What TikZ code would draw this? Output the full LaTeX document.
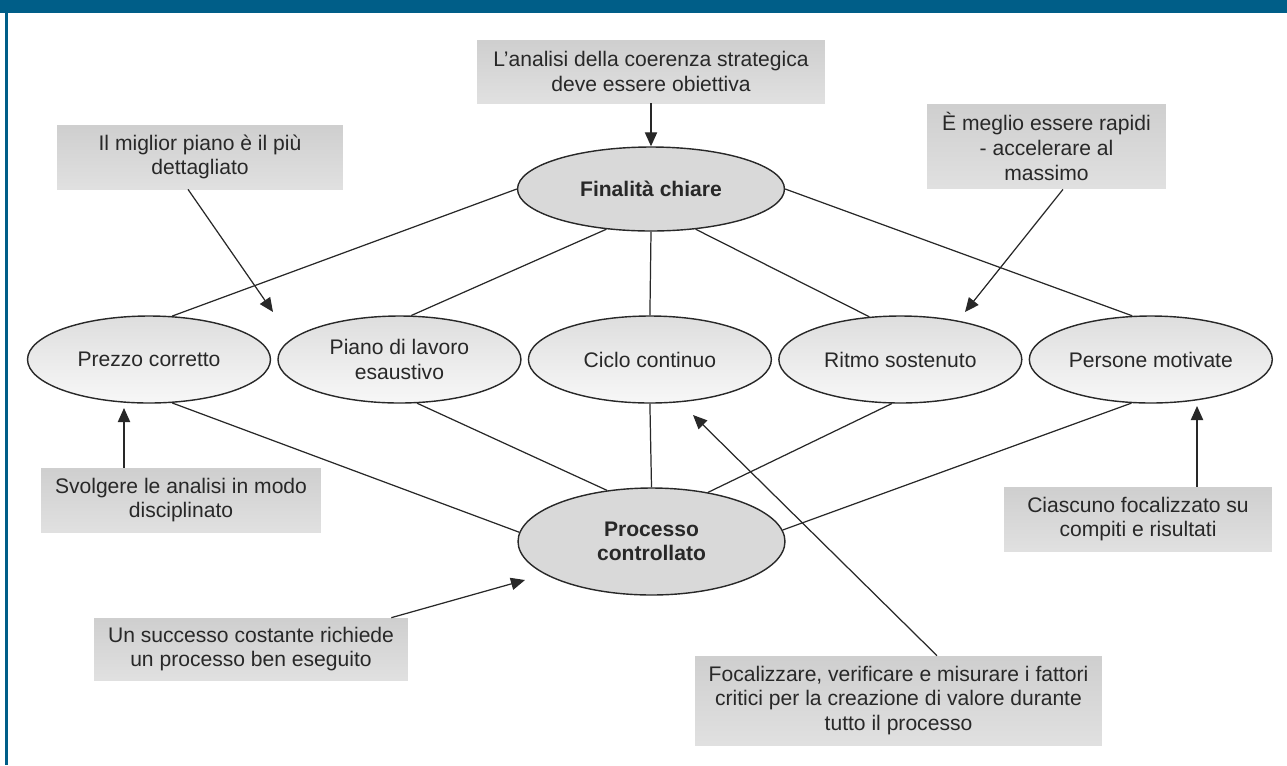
\documentclass[tikz,border=0pt]{standalone}
\usepackage{fontspec}
\setmainfont{Liberation Sans}
\usepackage{tikz}
\usetikzlibrary{arrows.meta, shapes.geometric, positioning}
\definecolor{hdrblue}{RGB}{0,94,136}
\definecolor{inkgray}{RGB}{40,40,40}

\begin{document}
\begin{tikzpicture}[
        x=0.02cm, y=-0.02cm, node distance=5.01cm, on grid, >={Triangle[length=8pt,width=7pt]},
        every node/.style={font=\fontsize{12}{14}\selectfont, text=inkgray, align=center, inner sep=0pt},
        goal/.style={ellipse, draw=inkgray, line width=0.8pt, fill=black!15,
          font=\fontsize{12}{14}\selectfont\bfseries, minimum width=5.34cm},
        factor/.style={ellipse, draw=inkgray, line width=0.8pt, top color=black!13, bottom color=black!3,
          minimum width=4.86cm, minimum height=1.74cm},
        note/.style={rectangle, top color=black!19, bottom color=black!12},
        link/.style={line width=0.7pt, color=inkgray}
        ]

        \useasboundingbox (0,0) rectangle (1287,765);
        \fill[hdrblue] (0,0) rectangle (1287,13);
        \fill[hdrblue] (5,0) rectangle (8,765);

        % centre
        \node[goal, minimum height=1.68cm]  (fin)                        at (651,189)   {Finalità chiare};
        \node[factor]                       (prezzo)                     at (149,359.5) {Prezzo corretto};
        \node[factor]                       (piano)   [right=of prezzo]  {Piano di lavoro\\esaustivo};
        \node[factor]                       (ciclo)   [right=of piano]   {Ciclo continuo};
        \node[factor]                       (ritmo)   [right=of ciclo]   {Ritmo sostenuto};
        \node[factor]                       (persone) [right=of ritmo]   {Persone motivate};
        \node[goal, minimum height=2.14cm]  (proc)                       at (651.5,541.5) {Processo\\controllato};

        % notes
        \node[note, minimum width=6.96cm, minimum height=1.26cm] (n_coer)  at (651,71.5)   {L'analisi della coerenza strategica\\deve essere obiettiva};
        \node[note, minimum width=5.72cm, minimum height=1.28cm] (n_migl)  at (200,157)    {Il miglior piano è il più\\dettagliato};
        \node[note, minimum width=4.78cm, minimum height=1.7cm]  (n_megl)  at (1046.5,146.5) {È meglio essere rapidi\\- accelerare al\\massimo};
        \node[note, minimum width=5.6cm,  minimum height=1.28cm] (n_svol)  at (181,500)    {Svolgere le analisi in modo\\disciplinato};
        \node[note, minimum width=6.28cm, minimum height=1.24cm] (n_succ)  at (251,649)    {Un successo costante richiede\\un processo ben eseguito};
        \node[note, minimum width=5.36cm, minimum height=1.28cm] (n_ciasc) at (1138,519)   {Ciascuno focalizzato su\\compiti e risultati};
        \node[note, minimum width=8.14cm, minimum height=1.78cm] (n_foc)   at (898.5,700.5) {Focalizzare, verificare e misurare i fattori\\critici per la creazione di valore durante\\tutto il processo};

        \coordinate (t_migl)  at (273,312);
        \coordinate (t_megl)  at (965,312);
        \coordinate (t_svol)  at (124,408);
        \coordinate (t_ciasc) at (1197,406);
        \coordinate (t_succ)  at (525,580);
        \coordinate (t_foc)   at (693,415);

        \path[link]
        (fin.180)     edge (prezzo.62)
        (fin.222)     edge (piano.75)
        (fin.south)   edge (ciclo.north)
        (fin.318)     edge (ritmo.126)
        (fin.0)       edge (persone.113)
        (prezzo.298)  edge (proc.176)
        (piano.292)   edge (proc.131)
        (ciclo.south) edge (proc.north)
        (ritmo.259)   edge (proc.41)
        (persone.246) edge (proc.5);

        \path[link,->]
        (n_coer.south)                 edge (fin.north)
        ([xshift=-0.24cm]n_migl.south) edge (t_migl)
        ([xshift=0.33cm]n_megl.south)  edge (t_megl)
        (t_svol |- n_svol.north)       edge (t_svol)
        (t_ciasc |- n_ciasc.north)     edge (t_ciasc)
        ([xshift=-0.34cm]n_succ.north east) edge (t_succ)
        ([xshift=0.77cm]n_foc.north)   edge (t_foc);
      \end{tikzpicture}
\end{document}
